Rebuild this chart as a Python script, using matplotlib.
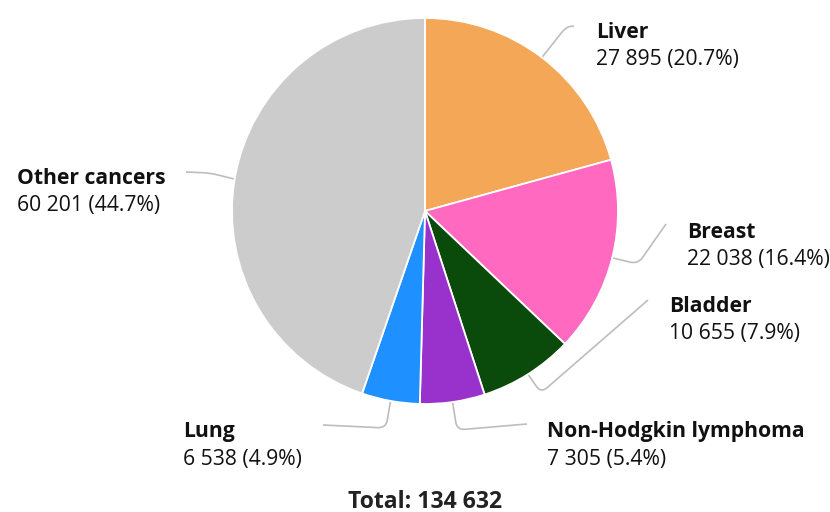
import matplotlib
matplotlib.use("Agg")
import matplotlib.pyplot as plt
from matplotlib.path import Path
from matplotlib.patches import PathPatch
import numpy as np

categories = ["Liver", "Breast", "Bladder", "Non-Hodgkin lymphoma", "Lung", "Other cancers"]
values = [27895, 22038, 10655, 7305, 6538, 60201]
colors = ["#F4A757", "#FF69C0", "#0A4A0A", "#9932CC", "#1E90FF", "#CCCCCC"]
total_label = "Total: 134 632"

# layout (pixel coordinates, y from top)
W, H = 830, 512
cx, cy, R = 425, 211, 193
label_pos = [(596, 33), (687, 232), (669, 306), (547, 432), (183, 432), (17, 179)]
elbows = [(566, 27), (638, 264), (541, 393), (457, 430), (386, 428), (210, 173)]
ends = [(574, 26), (666, 224), (648, 300), (527, 424), (323, 425), (186, 172)]

plt.rcParams['font.family'] = ['Open Sans', 'DejaVu Sans']
fig = plt.figure(figsize=(W / 100, H / 100), dpi=100)
ax = fig.add_axes([0, 0, 1, 1])
ax.set_xlim(0, W)
ax.set_ylim(0, H)
ax.axis('off')

def Y(y):
    return H - y

ax.pie(values, colors=colors, startangle=90, counterclock=False,
       center=(cx, Y(cy)), radius=R,
       wedgeprops=dict(edgecolor='white', linewidth=1.3))
ax.set_xlim(0, W)
ax.set_ylim(0, H)

total = sum(values)
cum = 0
for i, v in enumerate(values):
    mid = (cum + v / 2) / total
    cum += v
    ang = np.deg2rad(mid * 360)
    p0 = np.array([cx + R * np.sin(ang), cy - R * np.cos(ang)])
    e = np.array(elbows[i], float)
    p2 = np.array(ends[i], float)
    r = 8
    d1 = p0 - e
    d2 = p2 - e
    a = e + d1 / np.linalg.norm(d1) * min(r, np.linalg.norm(d1) / 2)
    b = e + d2 / np.linalg.norm(d2) * min(r, np.linalg.norm(d2) / 2)
    pts = [p0, a, e, b, p2]
    verts = [(x, Y(y)) for x, y in pts]
    codes = [Path.MOVETO, Path.LINETO, Path.CURVE3, Path.CURVE3, Path.LINETO]
    ax.add_patch(PathPatch(Path(verts, codes), facecolor='none',
                           edgecolor='#BDBDBD', linewidth=1.2, zorder=0))
    lx, ly = label_pos[i]
    pct = v / total * 100
    num = f"{v:,}".replace(",", " ")
    ax.text(lx, Y(ly), categories[i], fontsize=15.2, fontweight='bold',
            color='#111111', ha='left', va='center')
    ax.text(lx, Y(ly + 27), f"{num} ({pct:.1f}%)", fontsize=15.2,
            color='#111111', ha='left', va='center')

ax.text(425, Y(502), total_label, fontsize=16.6, fontweight='bold',
        color='#222222', ha='center', va='center')

fig.savefig("out.png", dpi=100)
